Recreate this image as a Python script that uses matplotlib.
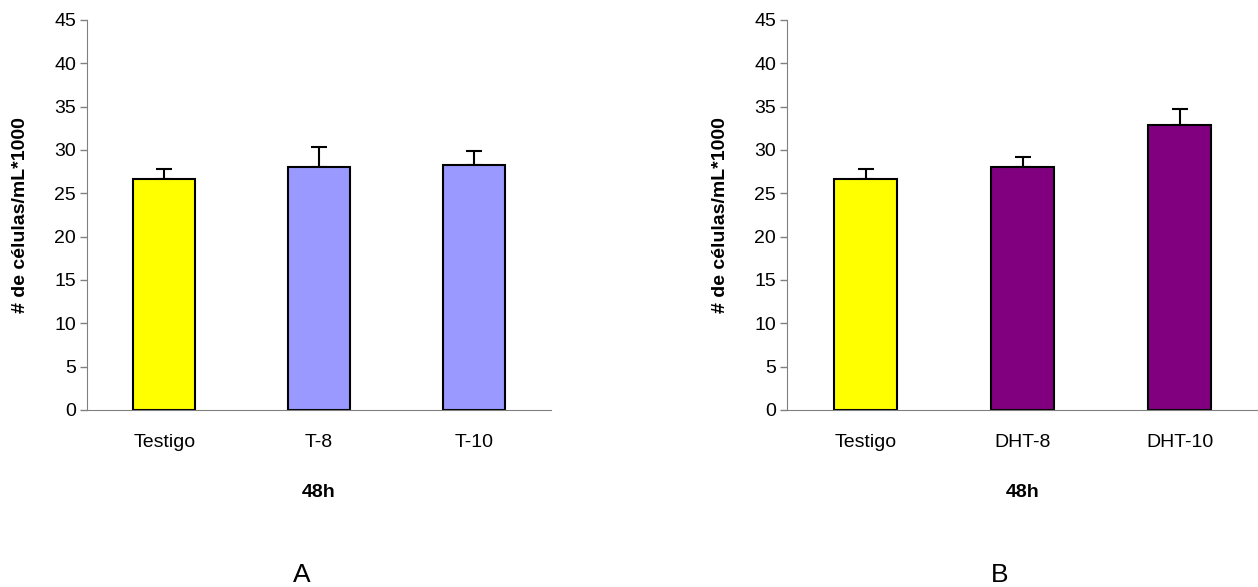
import matplotlib
matplotlib.use("Agg")
import matplotlib.pyplot as plt
import numpy as np

plt.rcParams['font.family'] = ['Liberation Sans', 'DejaVu Sans']

# datos (48h)
cats_a = ["Testigo", "T-8", "T-10"]
vals_a = [26.7, 28.0, 28.3]
err_a = [1.1, 2.4, 1.6]
colors_a = ["#FFFF00", "#9999FF", "#9999FF"]

cats_b = ["Testigo", "DHT-8", "DHT-10"]
vals_b = [26.7, 28.0, 32.9]
err_b = [1.1, 1.2, 1.8]
colors_b = ["#FFFF00", "#800080", "#800080"]

yticks = [0, 5, 10, 15, 20, 25, 30, 35, 40, 45]

W, H = 1258, 587
fig = plt.figure(figsize=(W / 100, H / 100), dpi=100)

ax_a = fig.add_axes([87 / W, 1 - 410 / H, (551 - 87) / W, 390 / H])
ax_b = fig.add_axes([787 / W, 1 - 410 / H, (1258 - 787) / W, 390 / H])

spine_col = "#808080"


def draw_panel(ax, cats, vals, errs, colors):
    x = np.arange(len(cats))
    ax.bar(x, vals, width=0.4, color=colors, edgecolor="black", linewidth=1.5, zorder=2)
    ax.errorbar(x, vals, yerr=[np.zeros(len(errs)), errs], fmt="none",
                ecolor="black", elinewidth=1.5, capsize=5.5, capthick=1.5, zorder=1)
    ax.set_xlim(-0.5, len(cats) - 0.5)
    ax.set_ylim(0, 45)
    ax.set_yticks(yticks)
    ax.set_xticks(x)
    ax.set_xticklabels(cats, fontsize=14)
    ax.tick_params(axis="y", labelsize=14, length=5, color=spine_col, width=1, pad=3)
    ax.tick_params(axis="x", length=0, pad=17)
    ax.spines["top"].set_visible(False)
    ax.spines["right"].set_visible(False)
    ax.spines["left"].set_color(spine_col)
    ax.spines["bottom"].set_color(spine_col)
    ax.set_xlabel("48h", fontsize=14, fontweight="bold", labelpad=24)
    ax.set_ylabel("# de células/mL*1000", fontsize=14, fontweight="bold", labelpad=18)


draw_panel(ax_a, cats_a, vals_a, err_a, colors_a)
draw_panel(ax_b, cats_b, vals_b, err_b, colors_b)

fig.text(302 / W, 0, "A", fontsize=19, ha="center", va="bottom")
fig.text(1000 / W, 0, "B", fontsize=19, ha="center", va="bottom")

fig.savefig("out.png", dpi=100)
